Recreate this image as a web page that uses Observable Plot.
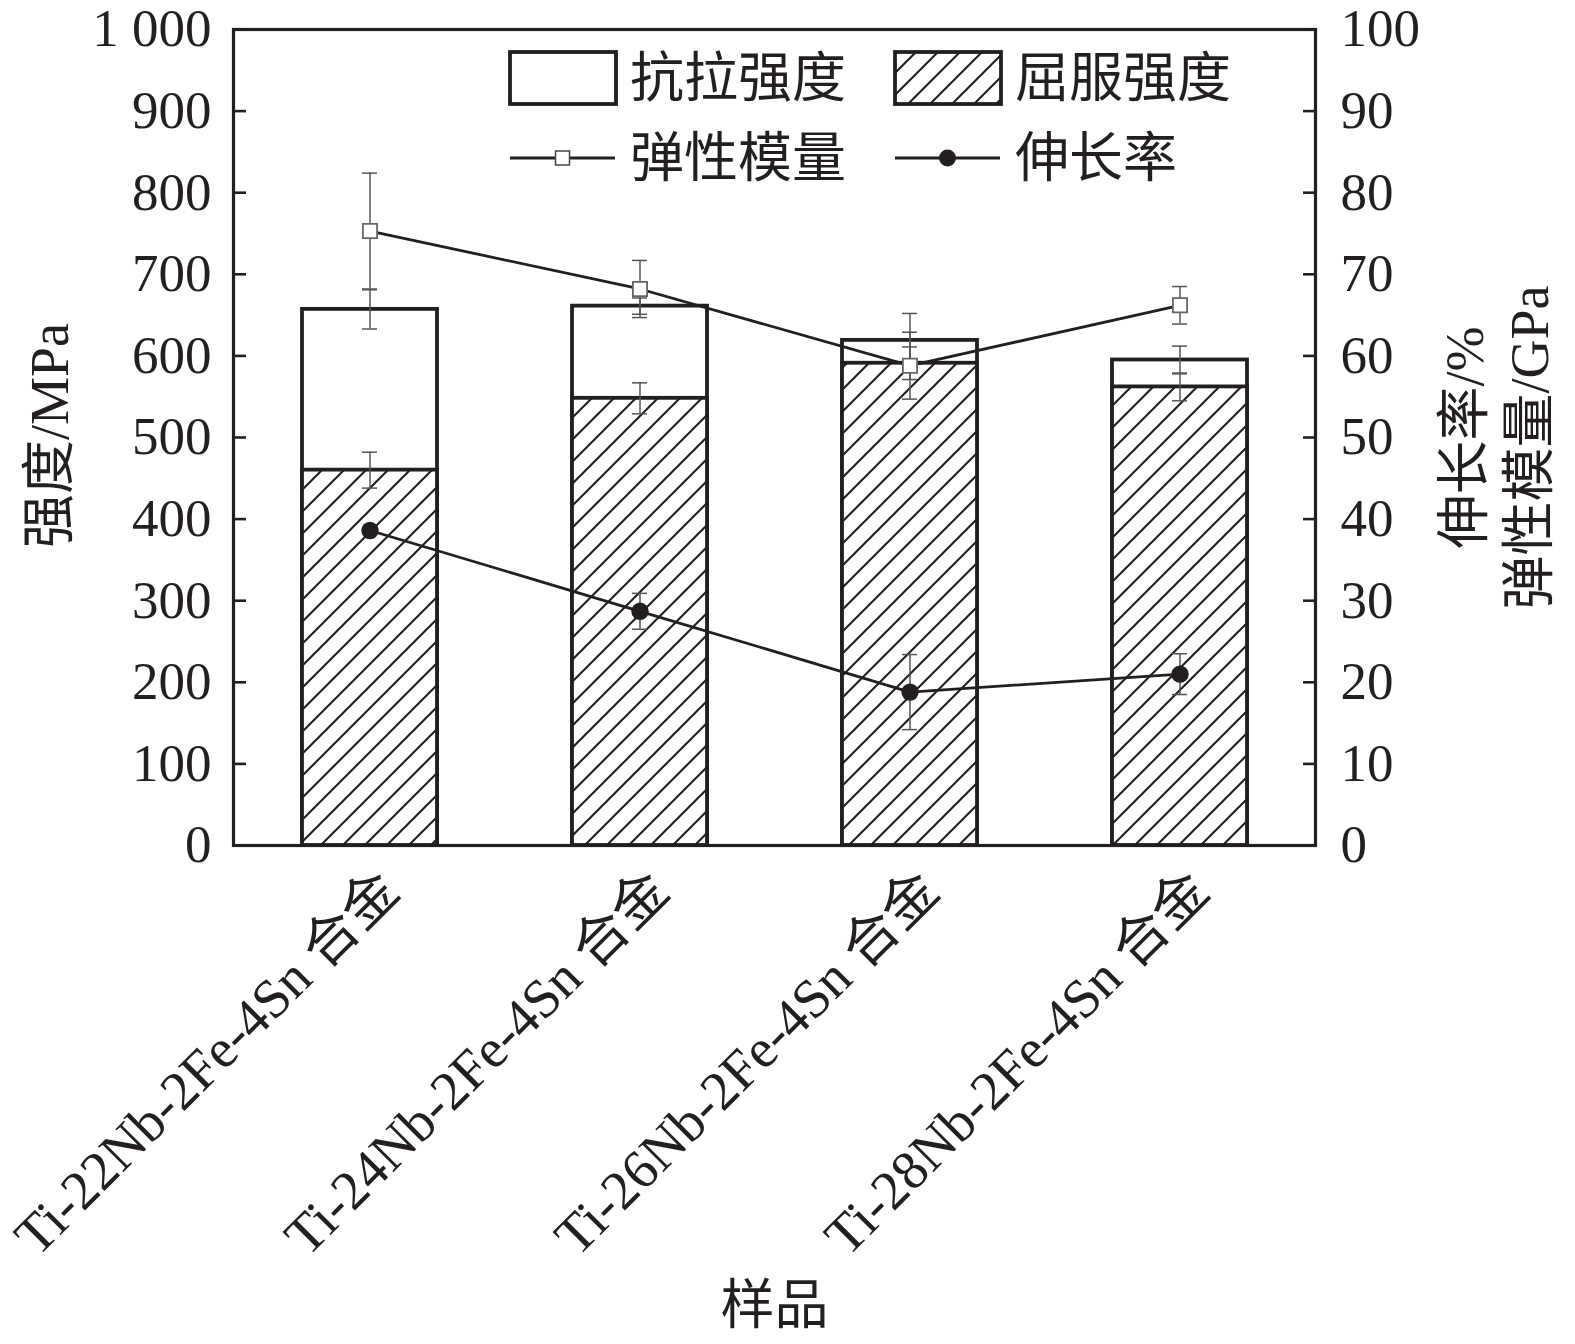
<!DOCTYPE html>
<html>
<head>
<meta charset="utf-8">
<script src="https://cdn.jsdelivr.net/npm/d3@7"></script>
<script src="https://cdn.jsdelivr.net/npm/@observablehq/plot@0.6"></script>
<style>
  html, body { margin: 0; padding: 0; background: #fff; }
  svg { display: block; }
</style>
</head>
<body>
<div id="chart"></div>
<script>
const categories = ["Ti-22Nb-2Fe-4Sn 合金", "Ti-24Nb-2Fe-4Sn 合金", "Ti-26Nb-2Fe-4Sn 合金", "Ti-28Nb-2Fe-4Sn 合金"];
const tensile = [657, 661, 619, 595];
const tensileErr = [24, 10, 33, 17];
const yieldStrength = [460, 548, 591, 562];
const yieldErr = [22, 19, 20, 17];
const modulus = [75.3, 68.2, 58.8, 66.2];
const modulusErr = [7.1, 3.5, 4.1, 2.3];
const elongation = [38.6, 28.7, 18.8, 21.0];
const elongationErr = [0, 2.2, 4.6, 2.5];

const leftTicks = [0, 100, 200, 300, 400, 500, 600, 700, 800, 900, 1000];
const leftTickLabels = ["0", "100", "200", "300", "400", "500", "600", "700", "800", "900", "1 000"];
const rightTicks = [0, 10, 20, 30, 40, 50, 60, 70, 80, 90, 100];
const rightTickLabels = ["0", "10", "20", "30", "40", "50", "60", "70", "80", "90", "100"];

const legendLabels = ["抗拉强度", "屈服强度", "弹性模量", "伸长率"];
const yTitle = "强度/MPa";
const y2Title1 = "伸长率/%";
const y2Title2 = "弹性模量/GPa";
const xTitle = "样品";

const RATIO = 10; // right axis (0-100) mapped onto left axis (0-1000)

const data = categories.map((c, i) => ({
  name: c,
  t: tensile[i], te: tensileErr[i],
  ys: yieldStrength[i], ye: yieldErr[i],
  m: modulus[i], me: modulusErr[i],
  e: elongation[i], ee: elongationErr[i]
}));

const INK = "#231f20";
const ERR = "#555";
const FONT = "'Liberation Serif', 'Noto Sans CJK SC', serif";
const capInset = 60;

const chart = Plot.plot({
  width: 1575,
  height: 1344,
  marginLeft: 233,
  marginRight: 260,
  marginTop: 29,
  marginBottom: 499,
  style: { fontFamily: FONT, background: "white", color: INK },
  x: { domain: categories, paddingInner: 0.5, paddingOuter: 0.25, axis: null },
  y: { domain: [0, 1000], axis: null },
  marks: [
    // bars
    Plot.barY(data, { x: "name", y: "t", fill: "white", stroke: INK, strokeWidth: 3.8 }),
    Plot.barY(data, { x: "name", y: "ys", fill: "url(#hatch)", stroke: INK, strokeWidth: 3.8 }),
    // strength error bars
    Plot.ruleX(data, { x: "name", y1: d => d.t - d.te, y2: d => d.t + d.te, stroke: ERR, strokeWidth: 1.5 }),
    Plot.tickY(data, { x: "name", y: d => d.t + d.te, stroke: ERR, strokeWidth: 1.5, insetLeft: capInset, insetRight: capInset }),
    Plot.tickY(data, { x: "name", y: d => d.t - d.te, stroke: ERR, strokeWidth: 1.5, insetLeft: capInset, insetRight: capInset }),
    Plot.ruleX(data, { x: "name", y1: d => d.ys - d.ye, y2: d => d.ys + d.ye, stroke: ERR, strokeWidth: 1.5 }),
    Plot.tickY(data, { x: "name", y: d => d.ys + d.ye, stroke: ERR, strokeWidth: 1.5, insetLeft: capInset, insetRight: capInset }),
    Plot.tickY(data, { x: "name", y: d => d.ys - d.ye, stroke: ERR, strokeWidth: 1.5, insetLeft: capInset, insetRight: capInset }),
    // modulus / elongation error bars
    Plot.ruleX(data, { x: "name", y1: d => (d.m - d.me) * RATIO, y2: d => (d.m + d.me) * RATIO, stroke: ERR, strokeWidth: 1.5 }),
    Plot.tickY(data, { x: "name", y: d => (d.m + d.me) * RATIO, stroke: ERR, strokeWidth: 1.5, insetLeft: capInset, insetRight: capInset }),
    Plot.tickY(data, { x: "name", y: d => (d.m - d.me) * RATIO, stroke: ERR, strokeWidth: 1.5, insetLeft: capInset, insetRight: capInset }),
    Plot.ruleX(data.filter(d => d.ee > 0), { x: "name", y1: d => (d.e - d.ee) * RATIO, y2: d => (d.e + d.ee) * RATIO, stroke: ERR, strokeWidth: 1.5 }),
    Plot.tickY(data.filter(d => d.ee > 0), { x: "name", y: d => (d.e + d.ee) * RATIO, stroke: ERR, strokeWidth: 1.5, insetLeft: capInset, insetRight: capInset }),
    Plot.tickY(data.filter(d => d.ee > 0), { x: "name", y: d => (d.e - d.ee) * RATIO, stroke: ERR, strokeWidth: 1.5, insetLeft: capInset, insetRight: capInset }),
    // lines
    Plot.line(data, { x: "name", y: d => d.m * RATIO, stroke: INK, strokeWidth: 2.8 }),
    Plot.line(data, { x: "name", y: d => d.e * RATIO, stroke: INK, strokeWidth: 2.8 }),
    // markers
    Plot.dot(data, { x: "name", y: d => d.m * RATIO, symbol: "square", r: 8, fill: "white", stroke: "#666", strokeWidth: 1.8 }),
    Plot.dot(data, { x: "name", y: d => d.e * RATIO, r: 8.7, fill: INK, stroke: "none" }),
    // frame
    Plot.frame({ stroke: INK, strokeWidth: 3.2 }),
    // left axis
    Plot.axisY({ anchor: "left", ticks: leftTicks, tickFormat: d => leftTickLabels[leftTicks.indexOf(d)], tickSize: -13, tickPadding: 35, fontSize: 53, strokeWidth: 2.6, stroke: INK, fill: INK, label: null }),
    // right axis
    Plot.axisY({ anchor: "right", ticks: rightTicks.map(d => d * RATIO), tickFormat: d => rightTickLabels[rightTicks.indexOf(d / RATIO)], tickSize: -13, tickPadding: 38, fontSize: 53, strokeWidth: 2.6, stroke: INK, fill: INK, label: null }),
    // x tick labels
    Plot.text(categories, { x: d => d, frameAnchor: "bottom", text: d => d, rotate: -45, textAnchor: "end", lineAnchor: "bottom", dx: 32, dy: 48, fontSize: 55, fill: INK }),
    // axis titles
    Plot.text([yTitle], { frameAnchor: "left", text: d => d, rotate: -90, textAnchor: "middle", dx: -183, dy: -2, fontSize: 54, fill: INK }),
    Plot.text([y2Title1], { frameAnchor: "right", text: d => d, rotate: -90, textAnchor: "middle", dx: 150, dy: 0, fontSize: 54, fill: INK }),
    Plot.text([y2Title2], { frameAnchor: "right", text: d => d, rotate: -90, textAnchor: "middle", dx: 215, dy: 10, fontSize: 54, fill: INK }),
    Plot.text([xTitle], { frameAnchor: "bottom", text: d => d, textAnchor: "middle", dy: 478, fontSize: 54, fill: INK })
  ]
});

// hatch pattern
const svg = d3.select(chart);
const defs = svg.insert("defs", ":first-child");
const pat = defs.append("pattern")
  .attr("id", "hatch")
  .attr("patternUnits", "userSpaceOnUse")
  .attr("width", 22).attr("height", 22);
pat.append("rect").attr("width", 22).attr("height", 22).attr("fill", "white");
pat.append("path")
  .attr("d", "M0,22 L22,0 M-5.5,5.5 L5.5,-5.5 M16.5,27.5 L27.5,16.5")
  .attr("stroke", INK).attr("stroke-width", 2.1).attr("fill", "none");

// legend (inside plot area, top)
const lg = svg.append("g").attr("font-family", FONT).attr("fill", INK).attr("text-anchor", "start");
const legendItems = [
  { kind: "rectWhite", x: 510, y: 78, label: legendLabels[0] },
  { kind: "rectHatch", x: 895, y: 78, label: legendLabels[1] },
  { kind: "lineSquare", x: 510, y: 158, label: legendLabels[2] },
  { kind: "lineDot", x: 895, y: 158, label: legendLabels[3] }
];
for (const it of legendItems) {
  if (it.kind === "rectWhite" || it.kind === "rectHatch") {
    lg.append("rect").attr("x", it.x).attr("y", it.y - 26).attr("width", 106).attr("height", 52)
      .attr("fill", it.kind === "rectWhite" ? "white" : "url(#hatch)")
      .attr("stroke", INK).attr("stroke-width", 3.8);
  } else {
    lg.append("line").attr("x1", it.x).attr("x2", it.x + 105).attr("y1", it.y).attr("y2", it.y)
      .attr("stroke", INK).attr("stroke-width", 2.8);
    if (it.kind === "lineSquare") {
      lg.append("rect").attr("x", it.x + 52.5 - 7).attr("y", it.y - 7).attr("width", 14).attr("height", 14)
        .attr("fill", "white").attr("stroke", "#444").attr("stroke-width", 1.5);
    } else {
      lg.append("circle").attr("cx", it.x + 52.5).attr("cy", it.y).attr("r", 8.5).attr("fill", INK);
    }
  }
  lg.append("text").attr("x", it.x + 120).attr("y", it.y).attr("dy", "0.36em")
    .attr("text-anchor", "start").attr("font-size", 54).text(it.label);
}

document.getElementById("chart").appendChild(chart);
</script>
</body>
</html>
